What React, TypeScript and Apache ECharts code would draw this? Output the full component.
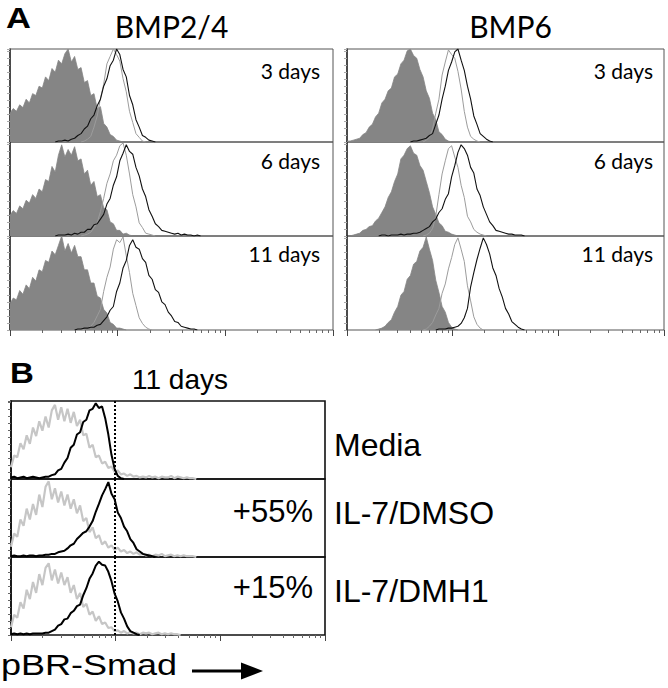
import React, { useEffect, useRef } from "react";
import * as echarts from "echarts";

// Histogram bins: x = channel (0..100 across 3 log decades), y = % of max count
const h = (from: number, counts: number[]) => counts.map((c, i) => [from + i, c]);

// ---------- Panel A: BMP2/4 ----------
const BMP24_D3_NEG = h(0, [31, 36, 33, 40, 37, 46, 42, 52, 50, 60, 58, 70, 66, 79, 75, 88, 84, 95, 100, 86, 92, 78, 80, 64, 66, 50, 52, 36, 38, 20, 16, 8, 6, 2, 1, 0]);
const BMP24_D3_CTRL = h(22, [0, 1, 3, 6, 16, 28, 47, 62, 84, 92, 100, 94, 87, 68, 54, 33, 21, 9, 5, 1, 0]);
const BMP24_D3_BMP = h(14, [0, 1, 1, 2, 1, 3, 4, 7, 9, 14, 17, 25, 29, 39, 46, 60, 68, 82, 88, 100, 94, 78, 70, 50, 40, 24, 16, 7, 5, 2, 1, 0]);

const BMP24_D6_NEG = h(0, [22, 27, 24, 32, 29, 38, 35, 44, 40, 50, 47, 60, 58, 74, 68, 86, 97, 84, 92, 86, 95, 80, 82, 66, 70, 54, 58, 42, 44, 30, 28, 15, 13, 6, 6, 2, 3, 1, 0]);
const BMP24_D6_CTRL = h(22, [0, 1, 2, 4, 9, 14, 26, 40, 56, 66, 80, 86, 96, 99, 86, 66, 44, 31, 14, 9, 3, 2, 1, 0]);
const BMP24_D6_BMP = h(14, [0, 1, 1, 1, 2, 1, 3, 2, 4, 4, 7, 7, 12, 13, 18, 23, 34, 40, 54, 63, 80, 88, 97, 90, 87, 73, 64, 50, 42, 28, 21, 13, 10, 6, 5, 4, 3, 2, 3, 1, 2, 1, 1, 0, 1, 0]);

const BMP24_D11_NEG = h(0, [28, 34, 32, 42, 38, 48, 44, 56, 52, 64, 62, 74, 72, 84, 80, 90, 100, 84, 92, 82, 90, 78, 78, 64, 64, 50, 50, 36, 34, 22, 18, 8, 6, 2, 2, 1, 0]);
const BMP24_D11_CTRL = h(22, [0, 1, 2, 4, 8, 15, 22, 41, 56, 67, 86, 96, 93, 99, 79, 61, 39, 26, 13, 7, 3, 1, 0]);
const BMP24_D11_BMP = h(20, [0, 1, 1, 2, 2, 3, 3, 5, 6, 10, 14, 21, 25, 41, 50, 66, 74, 90, 96, 88, 86, 76, 72, 58, 54, 43, 40, 30, 27, 19, 15, 9, 8, 4, 3, 2, 1, 1, 0]);

// ---------- Panel A: BMP6 ----------
const BMP6_D3_NEG = h(0, [1, 1, 2, 3, 4, 8, 10, 16, 19, 27, 31, 42, 46, 55, 58, 70, 73, 84, 88, 98, 100, 93, 90, 78, 70, 55, 47, 31, 24, 11, 8, 3, 1, 0]);
const BMP6_D3_CTRL = h(24, [0, 2, 5, 14, 31, 46, 72, 86, 99, 94, 90, 76, 57, 33, 16, 6, 3, 1, 0]);
const BMP6_D3_BMP = h(20, [0, 1, 1, 2, 3, 4, 7, 9, 19, 29, 46, 60, 77, 86, 97, 100, 88, 77, 60, 46, 28, 19, 9, 6, 3, 1, 0]);

const BMP6_D6_NEG = h(1, [0, 1, 2, 3, 6, 7, 10, 11, 16, 19, 25, 31, 41, 47, 58, 66, 82, 86, 93, 96, 88, 86, 75, 70, 58, 46, 31, 23, 14, 11, 5, 4, 2, 1, 0]);
const BMP6_D6_CTRL = h(24, [0, 1, 3, 8, 21, 44, 66, 80, 93, 96, 84, 73, 54, 41, 21, 15, 7, 4, 2, 1, 0]);
const BMP6_D6_BMP = h(10, [0, 1, 1, 0, 1, 1, 1, 2, 1, 2, 2, 3, 3, 4, 6, 8, 10, 15, 18, 25, 29, 39, 45, 63, 75, 89, 97, 93, 86, 73, 67, 50, 43, 31, 23, 15, 11, 6, 5, 4, 3, 2, 2, 1, 1, 1, 0]);

const BMP6_D11_NEG = h(9, [0, 1, 2, 4, 8, 11, 19, 25, 37, 41, 54, 58, 70, 73, 84, 88, 99, 86, 74, 53, 40, 25, 19, 8, 3, 1, 0]);
const BMP6_D11_CTRL = h(24, [0, 1, 4, 8, 16, 23, 39, 49, 65, 77, 91, 98, 86, 73, 47, 31, 14, 6, 2, 0]);
const BMP6_D11_BMP = h(28, [0, 1, 1, 1, 2, 2, 3, 4, 7, 13, 23, 46, 61, 75, 87, 98, 91, 81, 66, 58, 44, 35, 23, 17, 9, 6, 3, 1, 0]);

// ---------- Panel B: 11 days, pBR-Smad ----------
const B_MEDIA_ISO = h(0, [15, 30, 28, 46, 38, 56, 45, 66, 55, 74, 62, 80, 66, 88, 95, 76, 92, 74, 90, 72, 86, 68, 76, 56, 58, 40, 44, 28, 30, 20, 22, 14, 16, 9, 11, 6, 7, 4, 6, 3, 4, 2, 3, 2, 4, 2, 3, 1, 3, 2, 2, 4, 1, 3, 2, 1, 2, 1, 1, 0]);
const B_MEDIA_PSMAD = h(0, [2, 3, 1, 2, 3, 1, 2, 3, 2, 1, 2, 3, 3, 5, 6, 11, 13, 21, 27, 40, 44, 57, 60, 73, 76, 88, 90, 97, 91, 93, 78, 57, 31, 13, 4, 1, 0]);
const B_DMSO_ISO = h(0, [13, 30, 26, 48, 40, 62, 48, 68, 54, 80, 64, 90, 97, 74, 88, 70, 84, 66, 80, 62, 74, 56, 66, 46, 50, 32, 38, 24, 28, 16, 20, 12, 15, 9, 12, 7, 9, 5, 7, 4, 6, 3, 4, 2, 3, 1, 3, 2, 4, 1, 2, 3, 1, 2, 1, 2, 1, 1, 1, 0]);
const B_DMSO_PSMAD = h(0, [1, 2, 1, 1, 2, 1, 2, 2, 1, 2, 2, 3, 3, 4, 4, 6, 7, 8, 11, 15, 17, 23, 27, 31, 33, 39, 46, 58, 68, 79, 87, 96, 81, 74, 57, 50, 39, 33, 23, 18, 10, 7, 4, 3, 2, 1, 0]);
const B_DMH1_ISO = h(0, [10, 26, 22, 42, 34, 58, 46, 68, 54, 78, 64, 86, 92, 70, 84, 66, 80, 64, 74, 54, 64, 46, 54, 36, 40, 26, 30, 18, 24, 14, 16, 9, 10, 5, 6, 3, 5, 2, 4, 2, 3, 1, 3, 2, 3, 1, 2, 3, 1, 2, 1, 2, 1, 1, 0]);
const B_DMH1_PSMAD = h(0, [1, 2, 1, 2, 1, 2, 1, 2, 2, 2, 2, 3, 3, 5, 7, 12, 14, 20, 21, 28, 31, 37, 39, 51, 60, 72, 79, 89, 94, 90, 89, 81, 69, 53, 43, 29, 21, 11, 5, 3, 1, 0]);
const B_THRESHOLD = 33.1;

const A_TITLES = ["BMP2/4", "BMP6"];
const A_TIMES = ["3 days", "6 days", "11 days"];
const B_TITLE = "11 days";
const B_ROWS = ["Media", "IL-7/DMSO", "IL-7/DMH1"];
const B_CHANGE = ["", "+55%", "+15%"];
const X_LABEL = "pBR-Smad";

const A_DATA = [
  [
    [BMP24_D3_NEG, BMP24_D3_CTRL, BMP24_D3_BMP],
    [BMP24_D6_NEG, BMP24_D6_CTRL, BMP24_D6_BMP],
    [BMP24_D11_NEG, BMP24_D11_CTRL, BMP24_D11_BMP],
  ],
  [
    [BMP6_D3_NEG, BMP6_D3_CTRL, BMP6_D3_BMP],
    [BMP6_D6_NEG, BMP6_D6_CTRL, BMP6_D6_BMP],
    [BMP6_D11_NEG, BMP6_D11_CTRL, BMP6_D11_BMP],
  ],
];
const B_DATA = [
  [B_MEDIA_ISO, B_MEDIA_PSMAD],
  [B_DMSO_ISO, B_DMSO_PSMAD],
  [B_DMH1_ISO, B_DMH1_PSMAD],
];

const TICK_MINOR: number[] = [];
for (let d = 0; d < 3; d++) for (let k = 2; k <= 9; k++) TICK_MINOR.push(((d + Math.log10(k)) / 3) * 100);
const TICK_MAJOR = [0, 100 / 3, 200 / 3, 100];

const CAL = "Lato, 'Open Sans', sans-serif";
const ARIAL = "'Liberation Sans', Arial, sans-serif";

function buildOption() {
  const grid: any[] = [];
  const xAxis: any[] = [];
  const yAxis: any[] = [];
  const series: any[] = [];

  const addPanel = (
    left: number,
    top: number,
    width: number,
    height: number,
    bottom: boolean,
    border: string,
    borderWidth: number,
    yInterval: number,
    leftLine: string,
    tickColor: string
  ) => {
    const g = grid.length;
    grid.push({ left, top, width, height, show: true, borderColor: border, borderWidth, backgroundColor: "transparent", containLabel: false });
    const xi = xAxis.length;
    xAxis.push({
      type: "value", gridIndex: g, min: 0, max: 100, position: "bottom",
      axisLine: { show: false }, axisLabel: { show: false }, splitLine: { show: false },
      axisTick: { show: bottom, customValues: TICK_MINOR, length: 3, lineStyle: { color: "#666", width: 1 } },
    });
    if (bottom) {
      xAxis.push({
        type: "value", gridIndex: g, min: 0, max: 100, position: "bottom",
        axisLine: { show: false }, axisLabel: { show: false }, splitLine: { show: false },
        axisTick: { show: true, customValues: TICK_MAJOR, length: 6, lineStyle: { color: "#444", width: 1 } },
      });
    }
    const yi = yAxis.length;
    yAxis.push({
      type: "value", gridIndex: g, min: 0, max: 100, interval: yInterval,
      axisLine: { show: true, lineStyle: { color: leftLine, width: 1.6 } },
      axisTick: { show: true, length: 3, lineStyle: { color: tickColor, width: 1 } },
      axisLabel: { show: false }, splitLine: { show: false },
    });
    return { xi, yi };
  };

  // Panel A
  const aLefts = [10, 347];
  const aWidths = [323, 317];
  const aTops = [49, 142, 236];
  const aHeights = [93, 94, 94];
  for (let c = 0; c < 2; c++) {
    for (let r = 0; r < 3; r++) {
      const { xi, yi } = addPanel(aLefts[c], aTops[r], aWidths[c], aHeights[r], r === 2, "#555", 1, 7.5, "#333", "#aaa");
      const [neg, ctrl, bmp] = A_DATA[c][r];
      series.push({
        type: "line", xAxisIndex: xi, yAxisIndex: yi, data: neg, symbol: "none", silent: true,
        lineStyle: { color: "#858585", width: 0.8 }, areaStyle: { color: "#858585", opacity: 1 },
      });
      series.push({
        type: "line", xAxisIndex: xi, yAxisIndex: yi, data: ctrl, symbol: "none", silent: true,
        lineStyle: { color: "#9c9c9c", width: 1 },
      });
      series.push({
        type: "line", xAxisIndex: xi, yAxisIndex: yi, data: bmp, symbol: "none", silent: true,
        lineStyle: { color: "#111", width: 1.1 },
      });
    }
  }

  // Panel B
  const bTops = [401, 479, 557];
  for (let r = 0; r < 3; r++) {
    const { xi, yi } = addPanel(11, bTops[r], 314, 78, r === 2, "#111", 1.6, 9, "#111", "#666");
    const [iso, psmad] = B_DATA[r];
    series.push({
      type: "line", xAxisIndex: xi, yAxisIndex: yi, data: iso, symbol: "none", silent: true,
      lineStyle: { color: "#c6c6c6", width: 2.2 },
    });
    series.push({
      type: "line", xAxisIndex: xi, yAxisIndex: yi, data: psmad, symbol: "none", silent: true,
      lineStyle: { color: "#000", width: 2 },
      markLine: {
        silent: true, symbol: "none", label: { show: false },
        lineStyle: { type: "dotted", color: "#000", width: 2 },
        data: [{ xAxis: B_THRESHOLD }],
      },
    });
  }

  const txt = (text: string, x: number, y: number, fontSize: number, family: string, align: string, extra: any = {}) => ({
    type: "text", x, y, silent: true, ...extra,
    style: {
      text, fontSize, fontFamily: family, fill: "#000",
      align, verticalAlign: "middle", textAlign: align, textVerticalAlign: "middle",
      fontWeight: extra.bold ? "bold" : "normal",
    },
  });

  const graphic: any[] = [
    txt("A", 6, 18, 30, ARIAL, "left", { bold: true, scaleX: 1.15 }),
    txt(A_TITLES[0], 171.5, 26, 30, CAL, "center"),
    txt(A_TITLES[1], 510.5, 26, 30, CAL, "center"),
    txt(B_TITLE, 180, 379, 28, ARIAL, "center"),
    txt("B", 10, 372.5, 30, ARIAL, "left", { bold: true, scaleX: 1.1 }),
    txt(X_LABEL, 1, 665, 30, ARIAL, "left", { scaleX: 1.2 }),
    { type: "line", silent: true, shape: { x1: 192, y1: 671, x2: 247, y2: 671 }, style: { stroke: "#000", lineWidth: 3 } },
    { type: "polygon", silent: true, shape: { points: [[263, 671], [241, 662.5], [241, 679.5]] }, style: { fill: "#000" } },
  ];
  const dayY = [70, 160.5, 253.5];
  for (let r = 0; r < 3; r++) {
    graphic.push(txt(A_TIMES[r], 320, dayY[r], 21, CAL, "right"));
    graphic.push(txt(A_TIMES[r], 653, dayY[r], 21, CAL, "right"));
  }
  const bLabelY = [445, 513, 591];
  const bChangeY = [445, 511, 587];
  for (let r = 0; r < 3; r++) {
    graphic.push(txt(B_ROWS[r], 334, bLabelY[r], 32, ARIAL, "left"));
    if (B_CHANGE[r]) graphic.push(txt(B_CHANGE[r], 313, bChangeY[r], 31, ARIAL, "right"));
  }

  return {
    animation: false,
    backgroundColor: "#fff",
    grid, xAxis, yAxis, series, graphic,
  };
}

export default function App() {
  const ref = useRef<HTMLDivElement>(null);
  useEffect(() => {
    document.body.style.margin = "0";
    if (!ref.current) return;
    const chart = echarts.init(ref.current, null, { renderer: "svg" });
    chart.setOption(buildOption() as any);
    return () => chart.dispose();
  }, []);
  return <div ref={ref} style={{ width: 668, height: 688 }} />;
}
